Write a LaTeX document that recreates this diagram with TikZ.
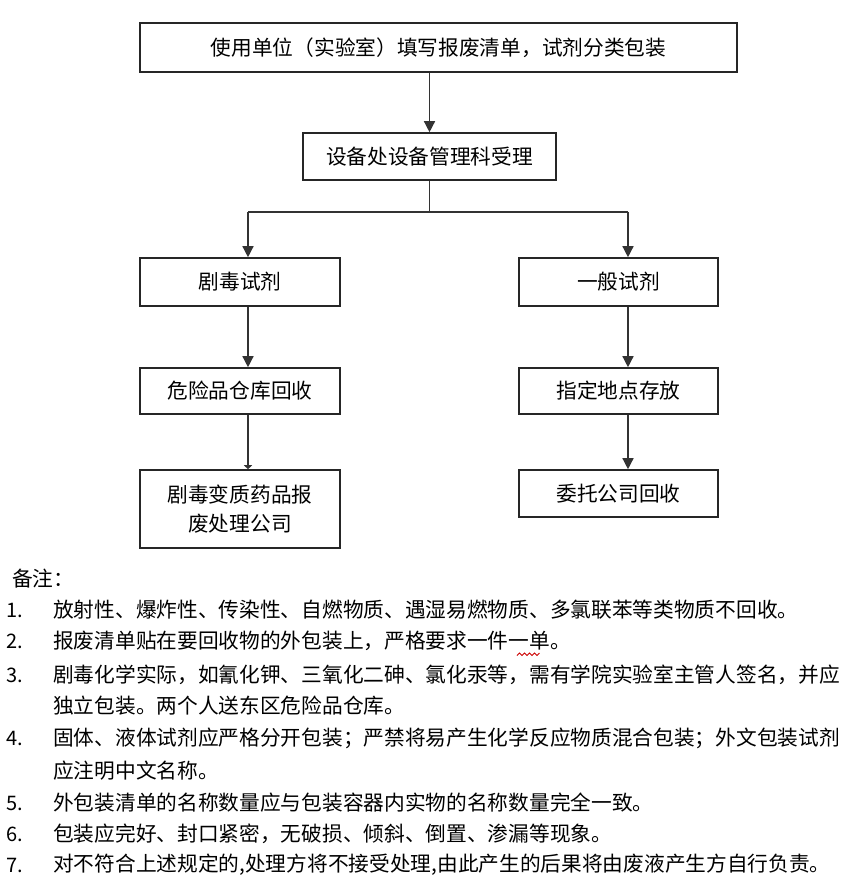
\documentclass[tikz,border=0pt]{standalone}
\usepackage{fontspec}
\setmainfont{Noto Sans CJK SC}
\usetikzlibrary{arrows.meta}
\newcommand\myfs{\fontsize{20.7bp}{29bp}\selectfont}
\begin{document}
\begin{tikzpicture}[x=1bp,y=-1bp,
  box/.style={draw=black!85, line width=1.6bp, inner sep=0pt, font=\myfs, text=black, align=center},
  ln/.style={draw=black!80, line width=1.4bp},
  arr/.style={ln, -{Triangle[length=11bp,width=11bp]}},
  arrsmall/.style={ln, -{Triangle[length=4bp,width=8bp]}},
  note/.style={anchor=west, inner sep=0pt, font=\myfs, text=black},
  num/.style={anchor=west, inner sep=0pt, font=\fontsize{20bp}{22bp}\selectfont, text=black}
]
\fill[white] (0,0) rectangle (865,888);
\useasboundingbox (0,0) rectangle (865,888);

% boxes
\node[box, minimum width=597bp, minimum height=49bp] (top) at (438.5,47.5) {使用单位（实验室）填写报废清单，试剂分类包装};
\node[box, minimum width=253bp, minimum height=47bp] (mid) at (429.5,156.5) {设备处设备管理科受理};
\node[box, minimum width=200bp, minimum height=48bp] (A1) at (240,282) {剧毒试剂};
\node[box, minimum width=200bp, minimum height=46bp] (A2) at (240,391) {危险品仓库回收};
\node[box, minimum width=200bp, minimum height=78bp] (A3) at (240,509) {剧毒变质药品报\\废处理公司};
\node[box, minimum width=199bp, minimum height=48bp] (B1) at (618.5,282) {一般试剂};
\node[box, minimum width=199bp, minimum height=46bp] (B2) at (618.5,391) {指定地点存放};
\node[box, minimum width=199bp, minimum height=47bp] (B3) at (618.5,493.5) {委托公司回收};

% connectors
\coordinate (forkL) at (248,212);
\coordinate (forkR) at (628,212);
\draw[arr] (mid.north |- top.south) -- (mid.north);
\draw[ln] (mid.south) -- (mid.south |- forkL);
\draw[ln] (forkL) -- (forkR);
\draw[arr] (forkL) -- (forkL |- A1.north);
\draw[arr] (forkR) -- (forkR |- B1.north);
\draw[arr] (forkL |- A1.south) -- (forkL |- A2.north);
\draw[arrsmall] (forkL |- A2.south) -- (forkL |- A3.north);
\draw[arr] (forkR |- B1.south) -- (forkR |- B2.north);
\draw[arr] (forkR |- B2.south) -- (forkR |- B3.north);

% notes
\node[note] (h) at (12,579) {备注：};
\node[num] (n1) at (6,610) {1.};
\node[note] (t1) at (53,610) {放射性、爆炸性、传染性、自燃物质、遇湿易燃物质、多氯联苯等类物质不回收。};
\node[num] (n2) at (6,641) {2.};
\node[note] (t2) at (53,641) {报废清单贴在要回收物的外包装上，严格要求一件一单。};
\node[num] (n3) at (6,675) {3.};
\node[note] (t3) at (53,675) {剧毒化学实际，如氰化钾、三氧化二砷、氯化汞等，需有学院实验室主管人签名，并应};
\node[note] (t3b) at (53,706) {独立包装。两个人送东区危险品仓库。};
\node[num] (n4) at (6,738) {4.};
\node[note] (t4) at (53,738) {固体、液体试剂应严格分开包装；严禁将易产生化学反应物质混合包装；外文包装试剂};
\node[note] (t4b) at (53,771) {应注明中文名称。};
\node[num] (n5) at (6,803) {5.};
\node[note] (t5) at (53,803) {外包装清单的名称数量应与包装容器内实物的名称数量完全一致。};
\node[num] (n6) at (6,834) {6.};
\node[note] (t6) at (53,834) {包装应完好、封口紧密，无破损、倾斜、倒置、渗漏等现象。};
\node[num] (n7) at (6,865) {7.};
\node[note] (t7) at (53,865) {对不符合上述规定的,处理方将不接受处理,由此产生的后果将由废液产生方自行负责。};

% spell-check squiggle
\draw[red!80!black, line width=0.9bp] (517,655.5) -- (519.5,653) -- (522,655.5) -- (524.5,653) -- (527,655.5) -- (529.5,653) -- (532,655.5) -- (534.5,653) -- (537,655.5) -- (539.5,653);
\end{tikzpicture}
\end{document}
